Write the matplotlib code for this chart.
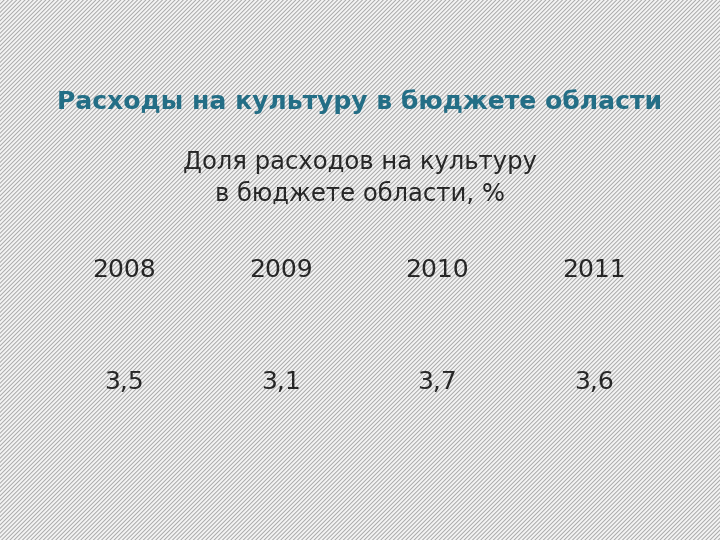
import matplotlib
matplotlib.use("Agg")
import matplotlib.pyplot as plt
from matplotlib.patches import Rectangle

title = "Расходы на культуру в бюджете области"
subtitle = "Доля расходов на культуру\nв бюджете области, %"
years = ["2008", "2009", "2010", "2011"]
values = ["3,5", "3,1", "3,7", "3,6"]

plt.rcParams['hatch.color'] = "#a8a8a8"
plt.rcParams['hatch.linewidth'] = 0.7
fig = plt.figure(figsize=(7.2, 5.4), dpi=100)
fig.patch.set_facecolor("#ffffff")
fig.patches.append(Rectangle((0, 0), 1, 1, transform=fig.transFigure,
                             facecolor="#f4f4f4", edgecolor="#a8a8a8",
                             hatch="////////", linewidth=0, zorder=0))

fig.text(0.5, 1 - 102/540, title, ha="center", va="center", fontsize=18,
         fontweight="bold", color="#236e86")
fig.text(0.5, 1 - 178/540, subtitle, ha="center", va="center", fontsize=17.5,
         color="#262626", linespacing=1.45)
xs = [124, 281, 437, 594]
for x, y, v in zip(xs, years, values):
    fig.text(x/720, 1 - 270/540, y, ha="center", va="center", fontsize=18, color="#262626")
    fig.text(x/720, 1 - 382/540, v, ha="center", va="center", fontsize=18, color="#262626")

fig.savefig("out.png", dpi=100)
